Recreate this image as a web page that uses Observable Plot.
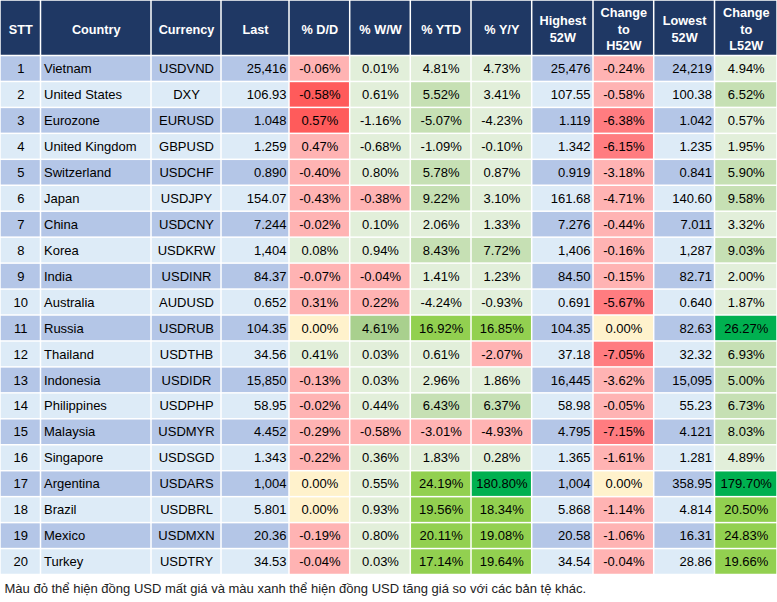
<!DOCTYPE html>
<html><head><meta charset="utf-8">
<script src="https://cdn.jsdelivr.net/npm/d3@7"></script>
<script src="https://cdn.jsdelivr.net/npm/@observablehq/plot@0.6"></script>
<style>body{margin:0;background:#fff;}</style>
</head><body><div id="chart"></div>
<script>
// ---------------- DATA ----------------
const headers = ["STT","Country","Currency","Last","% D/D","% W/W","% YTD","% Y/Y","Highest\n52W","Change\nto\nH52W","Lowest\n52W","Change\nto\nL52W"];
const countries = ["Vietnam","United States","Eurozone","United Kingdom","Switzerland","Japan","China","Korea","India","Australia","Russia","Thailand","Indonesia","Philippines","Malaysia","Singapore","Argentina","Brazil","Mexico","Turkey"];
const currencies = ["USDVND","DXY","EURUSD","GBPUSD","USDCHF","USDJPY","USDCNY","USDKRW","USDINR","AUDUSD","USDRUB","USDTHB","USDIDR","USDPHP","USDMYR","USDSGD","USDARS","USDBRL","USDMXN","USDTRY"];
const last = [25416,106.93,1.048,1.259,0.890,154.07,7.244,1404,84.37,0.652,104.35,34.56,15850,58.95,4.452,1.343,1004,5.801,20.36,34.53];
const pctDD = [-0.06,-0.58,0.57,0.47,-0.40,-0.43,-0.02,0.08,-0.07,0.31,0.00,0.41,-0.13,-0.02,-0.29,-0.22,0.00,0.00,-0.19,-0.04];
const pctWW = [0.01,0.61,-1.16,-0.68,0.80,-0.38,0.10,0.94,-0.04,0.22,4.61,0.03,0.03,0.44,-0.58,0.36,0.55,0.93,0.80,0.03];
const pctYTD = [4.81,5.52,-5.07,-1.09,5.78,9.22,2.06,8.43,1.41,-4.24,16.92,0.61,2.96,6.43,-3.01,1.83,24.19,19.56,20.11,17.14];
const pctYY = [4.73,3.41,-4.23,-0.10,0.87,3.10,1.33,7.72,1.23,-0.93,16.85,-2.07,1.86,6.37,-4.93,0.28,180.80,18.34,19.08,19.64];
const high52 = [25476,107.55,1.119,1.342,0.919,161.68,7.276,1406,84.50,0.691,104.35,37.18,16445,58.98,4.795,1.365,1004,5.868,20.58,34.54];
const chgH52 = [-0.24,-0.58,-6.38,-6.15,-3.18,-4.71,-0.44,-0.16,-0.15,-5.67,0.00,-7.05,-3.62,-0.05,-7.15,-1.61,0.00,-1.14,-1.06,-0.04];
const low52 = [24219,100.38,1.042,1.235,0.841,140.60,7.011,1287,82.71,0.640,82.63,32.32,15095,55.23,4.121,1.281,358.95,4.814,16.31,28.86];
const chgL52 = [4.94,6.52,0.57,1.95,5.90,9.58,3.32,9.03,2.00,1.87,26.27,6.93,5.00,6.73,8.03,4.89,179.70,20.50,24.83,19.66];
const footnote = "Màu đỏ thể hiện đồng USD mất giá và màu xanh thể hiện đồng USD tăng giá so với các bản tệ khác.";

// ---------------- STYLE / LAYOUT ----------------
const tones = ["header","rowA","rowB","flat","down","down2","down3","up1","up2","up3","up4","up5"];
const toneColors = ["#1F3864","#B4C6E7","#DDEBF7","#FFF2CC","#FFB3B3","#FF5B5B","#FF7C80","#E2EFDA","#C6E0B4","#A9D08E","#92D050","#00B050"];
const colEdges = [0,40.5,151,221,289,349.7,410.3,471,531.7,593,653.7,714.5,777];
const headerH = 55.5, rowH = 25.95, pad = 3;
const FONT = "'Liberation Sans', Arial, sans-serif";

const stdUp = u => u >= 25 ? "up5" : u >= 15 ? "up4" : u >= 5 ? "up2" : "up1";
const inverted = currencies.map(c => c.endsWith("USD"));
const pctCols = {
  4: {v: pctDD, inv: true, strong: -0.5, strongTone: "down2", up: () => "up1"},
  5: {v: pctWW, inv: true, strong: -Infinity, up: u => u >= 2 ? "up3" : "up1"},
  6: {v: pctYTD, inv: true, strong: -Infinity, up: stdUp},
  7: {v: pctYY, inv: true, strong: -Infinity, up: stdUp},
  9: {v: chgH52, inv: false, strong: -5, strongTone: "down3", up: stdUp},
  11: {v: chgL52, inv: false, strong: -Infinity, up: stdUp}
};
const levelCols = {3: last, 8: high52, 10: low52};
const fmtLevel = v => v >= 1000 ? Math.round(v).toLocaleString("en-US") : v >= 10 ? v.toFixed(2) : v.toFixed(3);
const fmtPct = v => v.toFixed(2) + "%";

const cells = [];
headers.forEach((h, c) => {
  cells.push({x1: colEdges[c], x2: colEdges[c+1], y1: 0, y2: headerH, tone: "header",
    text: h, anchor: "middle", tx: (colEdges[c] + colEdges[c+1]) / 2, ty: headerH / 2, head: true});
});
countries.forEach((country, r) => {
  const y1 = headerH + r * rowH, y2 = y1 + rowH;
  const rowTone = r % 2 === 0 ? "rowA" : "rowB";
  for (let c = 0; c < headers.length; c++) {
    let text, tone = rowTone, anchor = "middle";
    if (c === 0) text = String(r + 1);
    else if (c === 1) { text = country; anchor = "start"; }
    else if (c === 2) text = currencies[r];
    else if (levelCols[c]) { text = fmtLevel(levelCols[c][r]); anchor = "end"; }
    else {
      const p = pctCols[c], v = p.v[r];
      const u = p.inv && inverted[r] ? -v : v;
      text = fmtPct(v);
      tone = u === 0 ? "flat" : u < 0 ? (u <= p.strong ? p.strongTone : "down") : p.up(u);
    }
    const tx = anchor === "start" ? colEdges[c] + pad : anchor === "end" ? colEdges[c+1] - pad : (colEdges[c] + colEdges[c+1]) / 2;
    cells.push({x1: colEdges[c], x2: colEdges[c+1], y1, y2, tone, text, anchor, tx, ty: (y1 + y2) / 2, head: false});
  }
});

const body = cells.filter(d => !d.head);
const chart = Plot.plot({
  width: 777, height: 602, margin: 0,
  style: {fontFamily: FONT, background: "#fff"},
  x: {domain: [0, 777], range: [0, 777], axis: null},
  y: {domain: [0, 602], range: [0, 602], axis: null},
  color: {domain: tones, range: toneColors},
  marks: [
    Plot.rect(cells, {x1: "x1", x2: "x2", y1: "y1", y2: "y2", fill: "tone", inset: 0.75}),
    Plot.text(cells.filter(d => d.head), {x: "tx", y: "ty", text: "text", fill: "#fff", fontWeight: "bold",
      fontSize: 12.7, lineHeight: 1.3, textAnchor: "middle", fontFamily: FONT}),
    ...["start", "middle", "end"].map(a => Plot.text(body.filter(d => d.anchor === a), {
      x: "tx", y: "ty", text: "text", fill: "#000", fontSize: 13, textAnchor: a, fontFamily: FONT})),
    Plot.text([footnote], {x: () => 4, y: () => 588, text: d => d, textAnchor: "start", fill: "#222", fontSize: 13, fontFamily: FONT})
  ]
});
document.getElementById("chart").append(chart);
</script>
</body></html>
